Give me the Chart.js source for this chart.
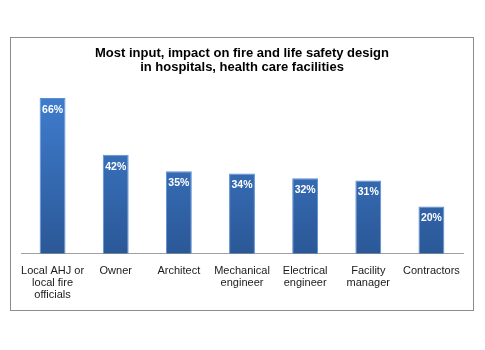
<!DOCTYPE html>
<html>
<head>
<meta charset="utf-8">
<script src="https://cdn.jsdelivr.net/npm/chart.js@4"></script>
<style>
  html, body { margin: 0; padding: 0; background: #fff; }
  body { width: 485px; height: 350px; position: relative; }
  #frame {
    position: absolute; left: 10px; top: 37px;
    width: 462px; height: 272px;
    border: 1px solid #8c8c8c;
  }
  #frame canvas { display: block; }
</style>
</head>
<body>
<div id="frame"><canvas id="influence_Chart" width="462" height="272"></canvas></div>
<script>
const categories = [
  ["Local AHJ or", "local fire", "officials"],
  "Owner",
  "Architect",
  ["Mechanical", "engineer"],
  ["Electrical", "engineer"],
  ["Facility", "manager"],
  "Contractors"
];
const percent_values = [66, 42, 35, 34, 32, 31, 20];
const title_lines = [
  "Most input, impact on fire and life safety design",
  "in hospitals, health care facilities"
];

// white percent labels just under the top of every bar
const bar_labels = {
  id: 'bar_labels',
  afterDatasetsDraw(chart) {
    const ctx = chart.ctx;
    const meta = chart.getDatasetMeta(0);
    ctx.save();
    ctx.fillStyle = '#ffffff';
    ctx.font = 'bold 10.5px "Liberation Sans", Arial, sans-serif';
    ctx.textAlign = 'center';
    ctx.textBaseline = 'middle';
    meta.data.forEach((bar, i) => {
      ctx.fillText(percent_values[i] + '%', bar.x, bar.y + 12);
    });
    ctx.restore();
  }
};

function bar_fill(context) {
  const chart = context.chart;
  const area = chart.chartArea;
  if (!area) return '#3a74bd';
  const el = context.element;
  const top = el && el.y != null ? el.y : area.top;
  const g = chart.ctx.createLinearGradient(0, top, 0, area.bottom);
  g.addColorStop(0, '#407ed0');
  g.addColorStop(1, '#2b5897');
  return g;
}

const influence_chart = document.querySelector('#influence_Chart').getContext('2d');
let chart = new Chart(influence_chart, {
  type: 'bar',
  data: {
    labels: categories,
    datasets: [{
      data: percent_values,
      backgroundColor: bar_fill,
      borderColor: '#5a8fd6',
      borderWidth: { top: 1, left: 1, right: 1, bottom: 0 },
      categoryPercentage: 1,
      barPercentage: 0.41
    }]
  },
  options: {
    responsive: false,
    animation: false,
    devicePixelRatio: 1,
    layout: { padding: { left: 10, right: 10, top: 0, bottom: 6 } },
    plugins: {
      legend: { display: false },
      tooltip: { enabled: false },
      title: {
        display: true,
        text: title_lines,
        color: '#000',
        font: { family: '"Liberation Sans", Arial, sans-serif', size: 13, weight: 'bold', lineHeight: 1.1 },
        padding: { top: 8, bottom: 14 }
      }
    },
    scales: {
      y: { display: false, min: 0, max: 70 },
      x: {
        grid: { display: false },
        border: { display: true, color: '#a0a0a0', width: 1 },
        ticks: {
          color: '#1a1a1a',
          padding: 3,
          maxRotation: 0,
          autoSkip: false,
          font: { family: '"Liberation Sans", Arial, sans-serif', size: 11, lineHeight: 1.1 }
        }
      }
    }
  },
  plugins: [bar_labels]
});
</script>
</body>
</html>
